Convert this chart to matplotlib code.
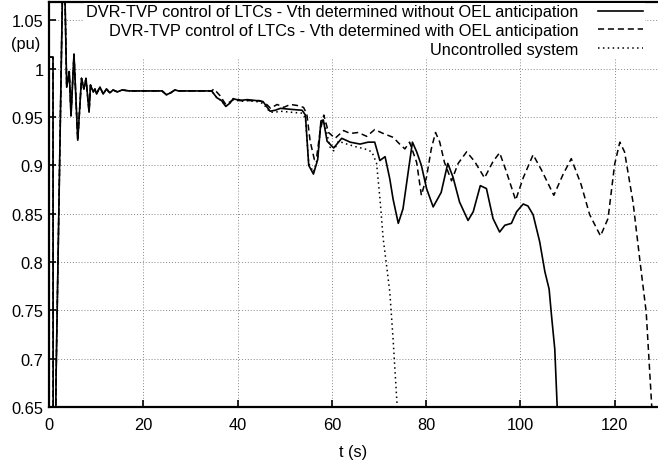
import matplotlib.pyplot as plt
import matplotlib.transforms as mtransforms

plt.rcParams['font.family'] = ['Liberation Sans', 'DejaVu Sans']

# common part of the three simulations (t in s, V in pu)
t_common = [0, 0.85, 0.9, 1.1, 1.5, 3.1, 3.75, 4.3, 4.67, 5.3, 6.1, 6.9, 7.4, 7.85,
            8.5, 8.8, 9.4, 9.75, 10.1, 10.8, 11.5, 12.2, 12.9, 13.6, 14.5, 15.5, 17,
            20, 24, 24.9, 25.8, 26.7, 27.5, 30, 34.5]
v_common = [1.012, 1.012, 0.40, 0.40, 0.681, 1.15, 0.981, 0.997, 0.951, 1.015, 0.926,
            0.990, 0.979, 0.990, 0.955, 0.983, 0.976, 0.979, 0.974, 0.981, 0.974, 0.979,
            0.975, 0.978, 0.976, 0.978, 0.977, 0.977, 0.977, 0.973, 0.975, 0.978, 0.977,
            0.977, 0.977]

# without OEL anticipation (solid)
t_solid = [35.6, 36.6, 37.5, 38.3, 39.1, 40.5, 42.0, 44.0, 45.4, 46.9, 48.0, 49.1, 51.2,
           53.7, 54.4, 55.1, 56.1, 57.0, 57.7, 58.2, 59.0, 60.4, 62.1, 63.9, 66.0, 67.7,
           69.1, 70.2, 71.3, 72.3, 73.0, 74.1, 75.1, 76.2, 77.1, 78.0, 79.0, 80.1, 81.5,
           83.2, 84.6, 85.7, 87.1, 88.9, 90.0, 91.5, 92.8, 94.2, 95.6, 96.7, 98.1, 99.2,
           100.6, 101.6, 102.7, 104.1, 105.2, 106.1, 106.6, 107.3, 107.9]
v_solid = [0.970, 0.967, 0.961, 0.964, 0.969, 0.967, 0.968, 0.967, 0.966, 0.956, 0.957,
           0.959, 0.958, 0.957, 0.952, 0.900, 0.891, 0.906, 0.946, 0.947, 0.925, 0.918,
           0.928, 0.924, 0.922, 0.924, 0.924, 0.905, 0.909, 0.886, 0.865, 0.840, 0.855,
           0.893, 0.924, 0.914, 0.900, 0.876, 0.857, 0.872, 0.902, 0.888, 0.862, 0.843,
           0.852, 0.879, 0.876, 0.845, 0.831, 0.838, 0.840, 0.852, 0.860, 0.858, 0.849,
           0.821, 0.790, 0.772, 0.745, 0.710, 0.640]

# with OEL anticipation (dashed)
t_dashed = [35.0, 36.3, 37.5, 38.5, 39.5, 41.0, 44.7, 46.0, 47.0, 48.4, 49.8, 51.2, 52.6,
            54.0, 54.7, 55.4, 56.3, 56.8, 57.5, 58.3, 59.3, 60.7, 62.5, 63.9, 65.6, 67.4,
            69.1, 70.9, 73.0, 74.4, 75.5, 76.5, 78.0, 79.0, 80.1, 81.1, 82.0, 82.9, 83.9,
            85.4, 86.8, 88.6, 90.3, 92.4, 94.2, 95.6, 97.0, 99.0, 100.6, 102.7, 104.5,
            107.1, 109.0, 110.8, 112.9, 114.7, 117.0, 118.6, 120.0, 121.1, 122.1, 123.9,
            125.3, 126.7, 128.0]
v_dashed = [0.979, 0.972, 0.963, 0.966, 0.969, 0.967, 0.967, 0.964, 0.959, 0.963, 0.960,
            0.963, 0.962, 0.960, 0.953, 0.925, 0.906, 0.909, 0.935, 0.952, 0.934, 0.928,
            0.936, 0.933, 0.934, 0.930, 0.937, 0.933, 0.929, 0.922, 0.917, 0.924, 0.903,
            0.869, 0.888, 0.917, 0.934, 0.924, 0.903, 0.884, 0.902, 0.914, 0.904, 0.887,
            0.904, 0.913, 0.894, 0.864, 0.887, 0.911, 0.895, 0.869, 0.890, 0.907, 0.880,
            0.849, 0.827, 0.845, 0.901, 0.924, 0.914, 0.862, 0.804, 0.748, 0.640]

# uncontrolled system (dotted)
t_dotted = [35.6, 36.6, 37.5, 38.3, 39.1, 40.5, 42.0, 44.0, 45.4, 46.9, 48.0, 49.1, 51.2,
            53.7, 54.4, 55.1, 56.1, 57.0, 57.7, 58.4, 59.6, 60.4, 61.4, 63.2, 65.3, 67.0,
            68.5, 69.5, 70.2, 70.9, 71.6, 72.3, 73.0, 74.0]
v_dotted = [0.970, 0.967, 0.961, 0.964, 0.969, 0.966, 0.967, 0.966, 0.964, 0.955, 0.955,
            0.956, 0.955, 0.954, 0.949, 0.902, 0.893, 0.908, 0.944, 0.945, 0.919, 0.915,
            0.925, 0.922, 0.919, 0.917, 0.914, 0.902, 0.866, 0.824, 0.797, 0.769, 0.720,
            0.640]

labels = ['DVR-TVP control of LTCs - Vth determined without OEL anticipation',
          'DVR-TVP control of LTCs - Vth determined with OEL anticipation',
          'Uncontrolled system']
xticks = [0, 20, 40, 60, 80, 100, 120]
yticks = [0.65, 0.7, 0.75, 0.8, 0.85, 0.9, 0.95, 1, 1.05]
ytick_labels = ['0.65', '0.7', '0.75', '0.8', '0.85', '0.9', '0.95', '1', '1.05']

fs = 11.8

fig = plt.figure(figsize=(6.58, 4.64), dpi=100)
ax = fig.add_axes([49 / 658, 56 / 464, 1 - 49 / 658, 405 / 464])

ax.plot(t_common + t_solid, v_common + v_solid, color='black', lw=1.2, label=labels[0])
ax.plot(t_common + t_dashed, v_common + v_dashed, color='black', lw=1.1,
        linestyle=(0, (4, 2.5)), label=labels[1])
ax.plot(t_common + t_dotted, v_common + v_dotted, color='black', lw=1.1,
        linestyle=(0, (1, 2.2)), label=labels[2])

ax.set_xlim(0, 129.2)
ax.set_ylim(0.65, 1.069)
ax.set_xticks(xticks)
ax.set_yticks(yticks)
ax.set_yticklabels(ytick_labels)
ax.tick_params(direction='in', length=5, width=1.2, labelsize=fs,
               top=True, right=False)
ax.tick_params(axis='x', pad=7)
ax.tick_params(axis='y', pad=4)
ax.grid(True, color='#888888', linestyle=(0, (1, 2)), linewidth=0.7)
for side in ['left', 'bottom', 'top']:
    ax.spines[side].set_linewidth(1.6)
ax.spines['right'].set_visible(False)

ax.set_xlabel('t (s)', fontsize=fs, labelpad=9)
trans = mtransforms.blended_transform_factory(ax.transAxes, ax.transData)
ax.text(-0.014, 1.026, '(pu)', transform=trans, ha='right', va='center', fontsize=fs)

leg = ax.legend(loc='upper right', bbox_to_anchor=(0.978, 0.9985), markerfirst=False,
                fontsize=fs, frameon=True, fancybox=False, framealpha=1,
                edgecolor='white', handlelength=2.75, handletextpad=1.2,
                labelspacing=0.24, borderpad=0.1, borderaxespad=0.0)
leg.get_frame().set_linewidth(0)

fig.savefig('out.png', dpi=100)
